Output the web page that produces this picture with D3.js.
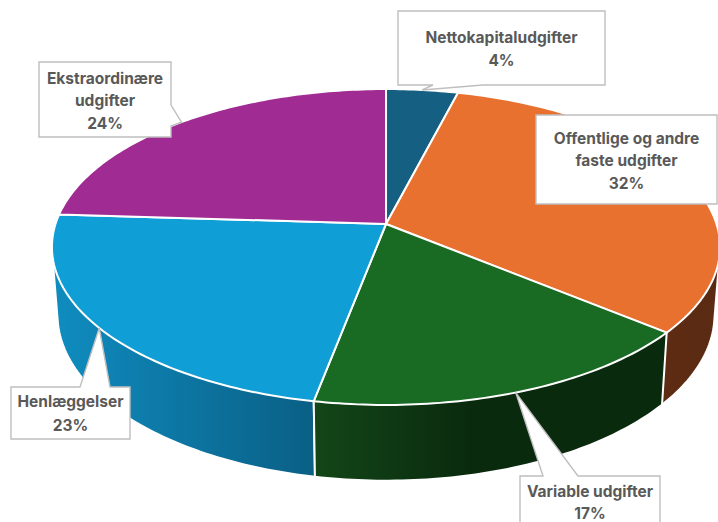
<!DOCTYPE html>
<html>
<head>
<meta charset="utf-8">
<script src="https://cdn.jsdelivr.net/npm/d3@7/dist/d3.min.js"></script>
<style>
  html, body { margin: 0; padding: 0; background: #fff; }
  svg { display: block; }
</style>
</head>
<body>
<script>
// Budget shares, clockwise from twelve o'clock
const categories = ["Nettokapitaludgifter", "Offentlige og andre faste udgifter", "Variable udgifter", "Henlæggelser", "Ekstraordinære udgifter"];
const values = [4, 32, 17, 23, 24];
const percentLabels = ["4%", "32%", "17%", "23%", "24%"];
const labelLines = [
  ["Nettokapitaludgifter", "4%"],
  ["Offentlige og andre", "faste udgifter", "32%"],
  ["Variable udgifter", "17%"],
  ["Henlæggelser", "23%"],
  ["Ekstraordinære", "udgifter", "24%"]
];
const topColors = ["#156082", "#E87130", "#196B24", "#0F9ED5", "#A02B93"];

// Side wall shading: [left colour, right colour, gradient start x, gradient end x]
const wallShades = [
  ["#0c3a4e", "#0c3a4e", 386, 458],
  ["#5e2c13", "#5a2a12", 660, 718],
  ["#134618", "#0a2a0e", 314, 470],
  ["#0f8cbf", "#0a5f85", 55, 314],
  ["#601a58", "#601a58", 60, 386]
];

// Label boxes: left, top, right, bottom, which edge carries the pointer and where it leaves it
const boxes = [
  { x0: 398, y0: 11, x1: 605, y1: 85, edge: "bottom", a: 433, b: 483 },
  { x0: 536, y0: 115, x1: 717, y1: 204, edge: null },
  { x0: 520, y0: 476, x1: 660, y1: 528, edge: "top", a: 543, b: 578 },
  { x0: 11, y0: 387, x1: 130, y1: 439, edge: "top", a: 80, b: 110 },
  { x0: 39, y0: 62, x1: 171, y1: 137, edge: "right", a: 105, b: 126 }
];
const firstBaseline = [43, 143.5, 497, 407, 83.5];
const lineStep = [23, 22.5, 22, 23.5, 22.5];

const width = 718, height = 522;
const svg = d3.select("body").append("svg").attr("width", width).attr("height", height);
const defs = svg.append("defs");

// Perspective view of a flat disc: v runs toward the viewer, w is the depth divisor
const k = 0.1456;
const cx = 386;
const topDisc = { rx: 330.5, ry: 154.6, cy: 224 };
const baseDisc = { rx: 325, ry: 162.5, cy: 290.5 };
function project(angle, disc) {
  const u = Math.sin(angle), v = -Math.cos(angle), w = 1 - k * v;
  return [cx + disc.rx * u / w, disc.cy + disc.ry * v / w];
}
function arcPoints(start, end, disc) {
  const n = Math.max(2, Math.ceil((end - start) * 60));
  return d3.range(n + 1).map(i => project(start + (end - start) * i / n, disc));
}

const slices = d3.pie().sort(null).value(d => d).startAngle(0).endAngle(2 * Math.PI)(values);
const line = d3.line();

// Side walls, back to front
const wallOrder = [0, 4, 1, 3, 2];
wallShades.forEach((s, i) => {
  const g = defs.append("linearGradient").attr("id", "wall" + i)
    .attr("gradientUnits", "userSpaceOnUse")
    .attr("x1", s[2]).attr("x2", s[3]).attr("y1", 0).attr("y2", 0);
  g.append("stop").attr("offset", 0).attr("stop-color", s[0]);
  g.append("stop").attr("offset", 1).attr("stop-color", s[1]);
});
svg.append("g").selectAll("path").data(wallOrder).join("path")
  .attr("d", i => {
    const d = slices[i];
    const hull = d3.polygonHull(arcPoints(d.startAngle, d.endAngle, topDisc)
      .concat(arcPoints(d.startAngle, d.endAngle, baseDisc)));
    return line(hull) + "Z";
  })
  .attr("fill", i => `url(#wall${i})`)
  .attr("stroke", "#fff").attr("stroke-width", 2).attr("stroke-linejoin", "round");

// Top face
svg.append("g").selectAll("path").data(slices).join("path")
  .attr("d", d => line([[cx, topDisc.cy]].concat(arcPoints(d.startAngle, d.endAngle, topDisc))) + "Z")
  .attr("fill", (d, i) => topColors[i])
  .attr("stroke", "#fff").attr("stroke-width", 2).attr("stroke-linejoin", "round");

// Callouts: the pointer ends on the rim at the middle of each slice
function calloutPath(b, tip) {
  const pts = [[b.x0, b.y0]];
  if (b.edge === "top") pts.push([b.a, b.y0], tip, [b.b, b.y0]);
  pts.push([b.x1, b.y0]);
  if (b.edge === "right") pts.push([b.x1, b.a], tip, [b.x1, b.b]);
  pts.push([b.x1, b.y1]);
  if (b.edge === "bottom") pts.push([b.b, b.y1], tip, [b.a, b.y1]);
  pts.push([b.x0, b.y1]);
  return line(pts) + "Z";
}
const labels = svg.append("g").selectAll("g").data(slices).join("g");
labels.append("path")
  .attr("d", (d, i) => calloutPath(boxes[i], project((d.startAngle + d.endAngle) / 2, topDisc)))
  .attr("fill", "#fff").attr("stroke", "#bfbfbf").attr("stroke-width", 1.4);
labels.each(function (d, i) {
  const b = boxes[i];
  d3.select(this).selectAll("text").data(labelLines[i]).join("text")
    .attr("x", (b.x0 + b.x1) / 2)
    .attr("y", (t, j) => firstBaseline[i] + j * lineStep[i])
    .attr("text-anchor", "middle")
    .attr("font-family", "Inter, sans-serif")
    .attr("font-weight", 700)
    .attr("font-size", 15.5)
    .attr("fill", "#595959")
    .text(t => t);
});
</script>
</body>
</html>
